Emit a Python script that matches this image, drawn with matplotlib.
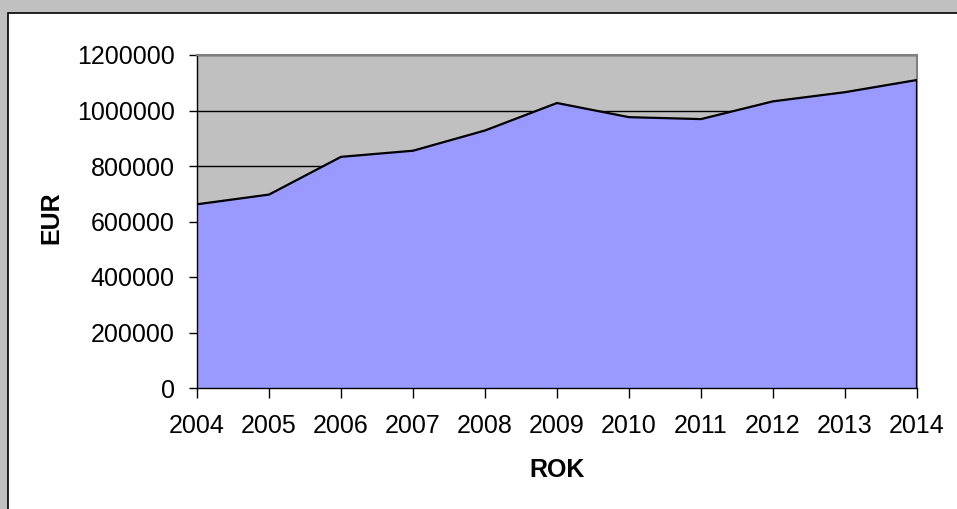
import matplotlib
matplotlib.use("Agg")
import matplotlib.pyplot as plt
from matplotlib.patches import Rectangle

years = [2004, 2005, 2006, 2007, 2008, 2009, 2010, 2011, 2012, 2013, 2014]
values = [662000, 697000, 833000, 855000, 928000, 1027000, 976000, 969000, 1033000, 1066000, 1110000]
yticks = [0, 200000, 400000, 600000, 800000, 1000000, 1200000]

plt.rcParams['font.family'] = ['Liberation Sans', 'DejaVu Sans']

W, H = 957, 509
fig = plt.figure(figsize=(W / 100, H / 100), dpi=100)
fig.patch.set_facecolor('#C0C0C0')

# white chart area with black border
fig.patches.append(Rectangle((8 / W, 0 - 0.01), 1.02, (H - 13) / H + 0.01,
                             transform=fig.transFigure, facecolor='white',
                             edgecolor='black', linewidth=1.2, zorder=-5))

left, right, top, bottom = 197, 917, 55, 388
ax = fig.add_axes([left / W, (H - bottom) / H, (right - left) / W, (bottom - top) / H])
ax.set_zorder(1)
ax.set_facecolor('#C0C0C0')

ax.fill_between(years, values, 0, facecolor='#9999FF', edgecolor='none', zorder=2)
ax.plot(years, values, color='black', linewidth=1.6, zorder=3)
ax.plot([years[-1], years[-1]], [0, values[-1]], color='black', linewidth=1.6, zorder=3)

ax.set_xlim(years[0], years[-1])
ax.set_ylim(0, 1200000)
ax.set_xticks(years)
ax.set_xticklabels([str(y) for y in years], fontsize=18)
ax.set_yticks(yticks)
ax.set_yticklabels([str(v) for v in yticks], fontsize=18)
ax.yaxis.grid(True, color='black', linewidth=1, zorder=1)
ax.set_axisbelow(True)

ax.tick_params(axis='y', direction='out', length=6, width=1, color='black', pad=10)
ax.tick_params(axis='x', direction='out', length=7, width=1, color='black', pad=12)

for s in ['top', 'right']:
    ax.spines[s].set_color('#808080')
    ax.spines[s].set_linewidth(1.5)
for s in ['left', 'bottom']:
    ax.spines[s].set_color('black')
    ax.spines[s].set_linewidth(1)

fig.text(51 / W, 1 - 218 / H, 'EUR', rotation=90, fontsize=18, fontweight='bold',
         ha='center', va='center')
fig.text(557 / W, 1 - 470 / H, 'ROK', fontsize=18, fontweight='bold',
         ha='center', va='center')

fig.savefig('out.png', dpi=100)
